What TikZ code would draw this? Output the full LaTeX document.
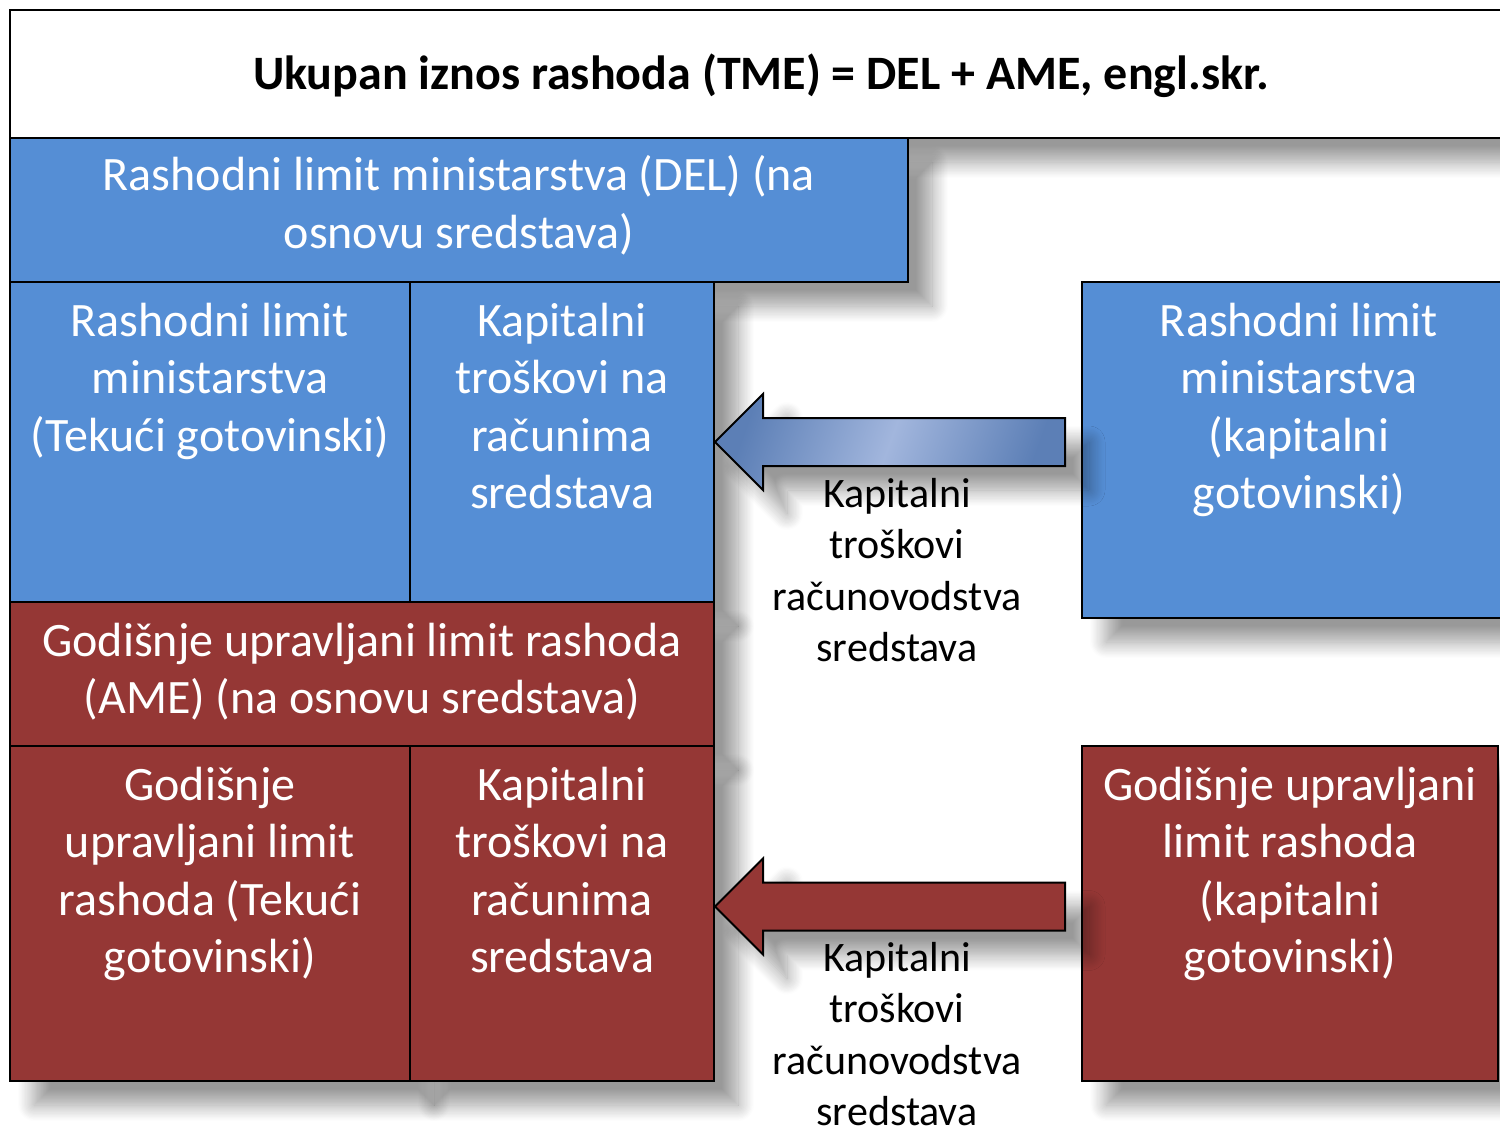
\documentclass[tikz,border=0pt]{standalone}
\usepackage{fontspec}
\setmainfont{Carlito}
\usetikzlibrary{positioning,fit,calc,shadows.blur}
\definecolor{delblue}{RGB}{85,142,213}
\definecolor{amered}{RGB}{149,55,53}
\definecolor{arrowdark}{RGB}{92,127,182}
\definecolor{arrowlight}{RGB}{162,182,221}

\tikzset{
  softshadow/.style={blur shadow={shadow xshift=12pt, shadow yshift=-12pt,
      shadow blur radius=8pt, shadow blur steps=14, shadow opacity=40}},
  cell/.style={draw=black, line width=1pt, inner sep=0pt, softshadow},
  delcell/.style={cell, fill=delblue},
  amecell/.style={cell, fill=amered},
  celltext/.style={text=white, font=\fontsize{24}{28.75}\selectfont,
      text width=220pt, align=flush center, anchor=base},
  notetext/.style={font=\fontsize{21}{25.75}\selectfont,
      text width=140pt, align=flush center, anchor=base},
  blockarrow/.style={draw=black, line width=1pt, line join=miter, softshadow},
}

\begin{document}
\begin{tikzpicture}[x=0.5pt,y=-0.5pt]
\useasboundingbox (0,0) rectangle (1500,1129);

% header
\node[cell, fill=white, fit={(10,10) (1512,138)}] (tme) {};
\node[font=\bfseries\fontsize{24}{28.75}\selectfont, anchor=base] (tmetext)
  at (761,90) {Ukupan iznos rashoda (TME) = DEL + AME, engl.skr.};

% DEL block
\node[delcell, fit={(10,138) (908,282)}] (del) {};
\node[delcell, fit={(10,282) (410,602)}] (teku) {};
\node[delcell, fit={(410,282) (714,602)}] (kapdel) {};

% AME block
\node[amecell, fit={(10,602) (714,746)}] (ame) {};
\node[amecell, fit={(10,746) (410,1081)}] (tekuame) {};
\node[amecell, fit={(410,746) (714,1081)}] (kapame) {};

% right side
\node[delcell, fit={(1082,282) (1512,618)}] (rdel) {};
\node[amecell, fit={(1082,746) (1498,1081)}] (rame) {};

% texts
\node[celltext, text width=400pt] (deltext) at ($(del.north)+(0,54)$)
  {Rashodni limit ministarstva (DEL) (na\\ osnovu sredstava)};
\node[celltext] (tekutext) at ($(teku.north)+(0,55)$)
  {Rashodni limit\\ ministarstva\\ (Tekući gotovinski)};
\node[celltext] (kapdeltext) at ($(kapdel.north)+(0,55)$)
  {Kapitalni\\ troškovi na\\ računima\\ sredstava};
\node[celltext, text width=340pt] (ametext) at ($(ame.north)+(0,55)$)
  {Godišnje upravljani limit rashoda\\ (AME) (na osnovu sredstava)};
\node[celltext] (tekuametext) at ($(tekuame.north)+(0,55)$)
  {Godišnje\\ upravljani limit\\ rashoda (Tekući\\ gotovinski)};
\node[celltext] (kapametext) at ($(kapame.north)+(0,55)$)
  {Kapitalni\\ troškovi na\\ računima\\ sredstava};
\node[celltext] (rdeltext) at ($(rdel.north)+(2,55)$)
  {Rashodni limit\\ ministarstva\\ (kapitalni\\ gotovinski)};
\node[celltext] (rametext) at ($(rame.north)+(0,55)$)
  {Godišnje upravljani\\ limit rashoda\\ (kapitalni\\ gotovinski)};

% arrows
\coordinate (bend) at ($(rdel.west)+(-16,0)$);
\draw[blockarrow, top color=arrowdark, bottom color=arrowdark,
      middle color=arrowlight, shading angle=70]
  (kapdel.east) -- ++(48,-48) -- ++(0,24) coordinate (b1) -- (b1 -| bend)
  -- ++(0,48) coordinate (b2) -- (b2 -| b1) -- ++(0,24) -- cycle;

\coordinate (rend) at ($(rame.west)+(-16,0)$);
\draw[blockarrow, fill=amered]
  ($(kapame.east)+(0,-7)$) -- ++(48,-48) -- ++(0,24) coordinate (r1) -- (r1 -| rend)
  -- ++(0,48) coordinate (r2) -- (r2 -| r1) -- ++(0,24) -- cycle;

\node[notetext] (dellabel) at (897,507)
  {Kapitalni\\ troškovi\\ računovodstva\\ sredstava};
\node[notetext] (amelabel) at (897,971)
  {Kapitalni\\ troškovi\\ računovodstva\\ sredstava};
\end{tikzpicture}
\end{document}
